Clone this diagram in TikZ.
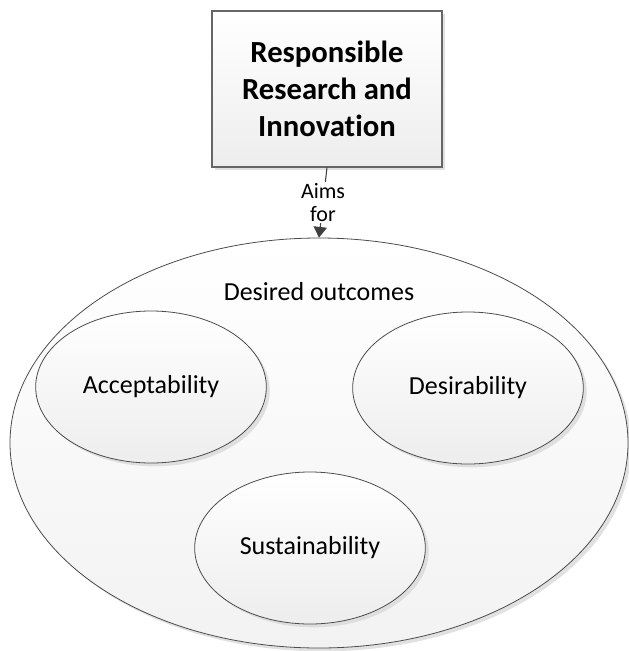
\documentclass[tikz,border=0pt]{standalone}
\usepackage{fontspec}
\setmainfont{Carlito}[Ligatures=NoCommon]
\usepackage{tikz}
\usetikzlibrary{positioning,shapes.geometric,shadows,arrows.meta}

\begin{document}
\begin{tikzpicture}[x=0.75pt, y=-0.75pt]
  % ---- Canvas (pixel grid, y pointing down) -------------------
  \useasboundingbox (0,0) rectangle (629,651);

  \tikzstyle{boxshade}=[top color=white, bottom color=black!7,
                        drop shadow={shadow xshift=2.5pt, shadow yshift=-2.5pt,
                                     fill=black!15, opacity=0.8}]
  \tikzstyle{goal}=[ellipse, draw=black!70, line width=0.6pt, boxshade,
                    inner sep=0pt, minimum width=173pt, minimum height=114pt,
                    font=\fontsize{19.5}{23}\selectfont]

  % ---- Top box -----------------------------------------------
  \node[draw=black!60, line width=0.8pt, boxshade, align=center,
        minimum width=172.5pt, minimum height=117pt,
        font=\fontsize{23}{28}\selectfont\bfseries] (rri) at (327,89)
        {Responsible\\Research and\\Innovation};

  % ---- Outer ellipse with its title ---------------------------
  \node[ellipse, draw=black!70, line width=0.6pt, top color=white,
        bottom color=black!5,
        drop shadow={shadow xshift=2.5pt, shadow yshift=-2.5pt,
                     fill=black!15, opacity=0.8},
        inner sep=0pt, minimum width=463.5pt, minimum height=307.5pt]
        (outcomes) at (319,443) {};
  \node[font=\fontsize{19.5}{23}\selectfont] (title) at (319,292)
        {Desired outcomes};

  % ---- Inner ellipses ----------------------------------------
  \node[goal] (accept)  at (151,387) {Acceptability};
  \node[goal] (desire)  at (468,388) {Desirability};
  \node[goal] (sustain) at (310,548) {Sustainability};

  % ---- Connector ---------------------------------------------
  \draw[black!75, line width=0.8pt,
        -{Triangle[width=10pt, length=8pt]}]
    (rri.south) -- node[fill=white, text=black, inner sep=1pt, align=center,
                        font=\fontsize{16.5}{17}\selectfont] (aims) {Aims\\for}
    (outcomes.north);

\end{tikzpicture}
\end{document}
